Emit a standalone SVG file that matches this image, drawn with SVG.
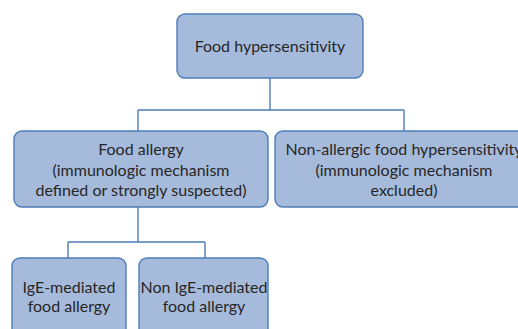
<svg xmlns="http://www.w3.org/2000/svg" width="518" height="329" viewBox="0 0 518 329">
<style>
.box{fill:#a6bbdc;stroke:#4d7db7;stroke-width:1.4}
.con{fill:none;stroke:#4d7db7;stroke-width:1.4}
text{font-family:Lato,"Open Sans",sans-serif;font-size:16px;fill:#262626;text-anchor:middle}
</style>
<rect width="518" height="329" fill="#ffffff"/>
<g id="connectors">
<path class="con" d="M270 78V110M138 110H404M138 110V131M404 110V131"/>
<path class="con" d="M138 207V242M68 242H205M68 242V258M205 242V258"/>
</g>
<g id="food-hypersensitivity">
<rect class="box" x="177" y="14" width="186" height="64" rx="8"/>
<text x="270" y="52">Food hypersensitivity</text>
</g>
<g id="food-allergy">
<rect class="box" x="14" y="131" width="254" height="76" rx="8"/>
<text x="141" y="155">Food allergy</text>
<text x="141" y="176">(immunologic mechanism</text>
<text x="141" y="196">defined or strongly suspected)</text>
</g>
<g id="non-allergic">
<rect class="box" x="275" y="131" width="258" height="76" rx="8"/>
<text x="404" y="155">Non-allergic food hypersensitivity</text>
<text x="404" y="176">(immunologic mechanism</text>
<text x="404" y="196">excluded)</text>
</g>
<g id="ige-mediated">
<rect class="box" x="12" y="258" width="114" height="80" rx="8"/>
<text x="69" y="293">IgE-mediated</text>
<text x="69" y="312">food allergy</text>
</g>
<g id="non-ige-mediated">
<rect class="box" x="139" y="258" width="129" height="80" rx="8"/>
<text x="204" y="293">Non IgE-mediated</text>
<text x="204" y="312">food allergy</text>
</g>
</svg>
